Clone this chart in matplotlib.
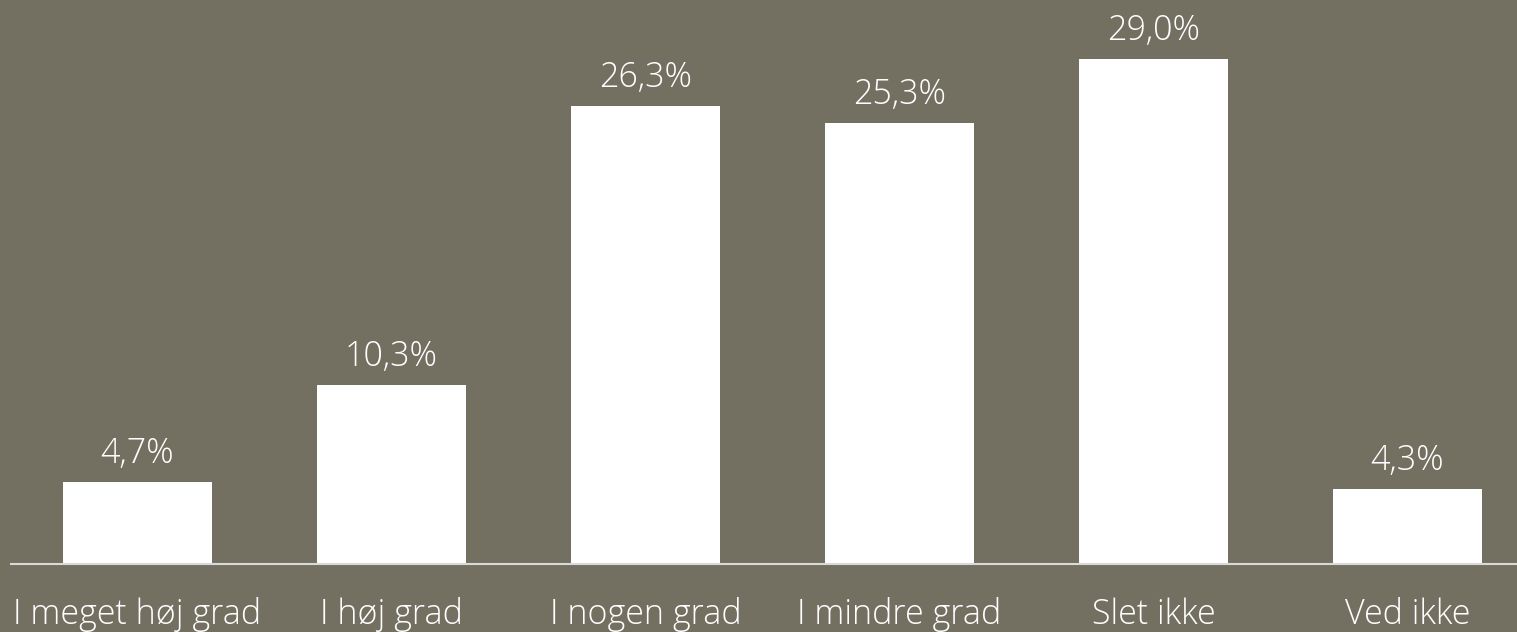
import matplotlib
matplotlib.use("Agg")
import matplotlib.pyplot as plt

categories = ["I meget høj grad", "I høj grad", "I nogen grad",
              "I mindre grad", "Slet ikke", "Ved ikke"]
values = [4.7, 10.3, 26.3, 25.3, 29.0, 4.3]
value_labels = ["4,7%", "10,3%", "26,3%", "25,3%", "29,0%", "4,3%"]

bg = "#737062"
plt.rcParams['font.family'] = ['Open Sans', 'DejaVu Sans']

fig = plt.figure(figsize=(15.17, 6.32), dpi=100, facecolor=bg)
# axes runs slightly past the right edge, like the cropped original
ax = fig.add_axes([10.5 / 1517, 68 / 632, 1524 / 1517, 564 / 632])
ax.set_facecolor(bg)

x = range(len(categories))
bars = ax.bar(x, values, width=149 / 254, color="white")
ax.set_xlim(-0.5, len(categories) - 0.5)
ax.set_ylim(0, 564 / (505 / 29.0))

for b, lab in zip(bars, value_labels):
    ax.annotate(lab, (b.get_x() + b.get_width() / 2, b.get_height()),
                xytext=(0, 8), textcoords="offset points",
                ha="center", va="bottom", color="white",
                fontsize=24.5, fontweight="light")

ax.set_xticks(list(x))
ax.set_xticklabels(categories, color="white", fontsize=24.5, fontweight="light")
ax.tick_params(axis="x", length=0, pad=24)
ax.set_yticks([])
for s in ["top", "left", "right"]:
    ax.spines[s].set_visible(False)
ax.spines["bottom"].set_color("#d9d9d9")
ax.spines["bottom"].set_linewidth(1.5)

fig.savefig("out.png", dpi=100, facecolor=bg)
